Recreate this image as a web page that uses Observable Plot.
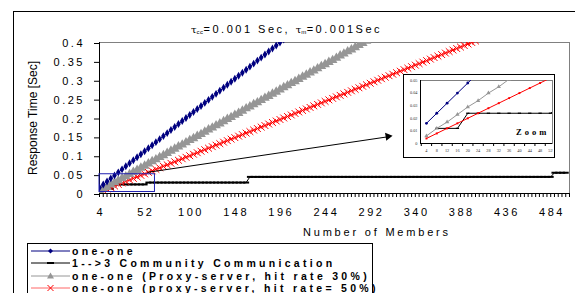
<!DOCTYPE html>
<html><head><meta charset="utf-8">
<script src="https://cdn.jsdelivr.net/npm/d3@7"></script>
<script src="https://cdn.jsdelivr.net/npm/@observablehq/plot@0.6"></script>
<style>
body{margin:0;background:#fff;}
#wrap{position:relative;width:575px;height:293px;overflow:hidden;font-family:Arial,"Liberation Sans",sans-serif;color:#000;}
#frame{position:absolute;left:13px;top:11px;width:700px;height:400px;border:1px solid #000;}
#main{position:absolute;left:0;top:0;}
#title{position:absolute;left:191px;top:23px;font-size:11px;letter-spacing:2.5px;white-space:nowrap;}
#title .tau{font-family:"DejaVu Serif",serif;font-size:10px;letter-spacing:0;}
#title sub{font-size:6px;letter-spacing:0.5px;vertical-align:-1px;}
#xlab{position:absolute;left:303px;top:226px;font-size:11px;letter-spacing:2.8px;white-space:nowrap;}
#ylab{position:absolute;left:-42px;top:111px;width:150px;text-align:center;font-size:12px;transform:rotate(-90deg);white-space:nowrap;}
#insetbox{position:absolute;left:403px;top:74px;width:152px;height:84px;background:#fff;border:1.5px solid #000;box-sizing:border-box;}
#inset{position:absolute;left:403px;top:74px;}
#zoom{position:absolute;left:516px;top:127px;font-family:"Liberation Serif","Times New Roman",serif;font-weight:bold;font-size:8.5px;letter-spacing:3px;}
#legend{position:absolute;left:27px;top:243px;width:346px;height:70px;border:1px solid #000;box-sizing:border-box;background:#fff;}
.row{position:absolute;left:1px;height:12px;white-space:nowrap;font-weight:bold;font-size:10.5px;letter-spacing:3.3px;line-height:12px;}
.row svg{position:absolute;left:0;top:0;}
.row span{position:absolute;left:43px;top:0;}
#main g[aria-label="y-axis tick label"] text{letter-spacing:2.5px;}
#main g[aria-label="x-axis tick label"] text{letter-spacing:2.5px;}
</style>
</head><body>
<div id="wrap">
  <div id="frame"></div>
  <div id="main"></div>
  <div id="title"><span class="tau">τ</span><sub>cc</sub>=0.001 Sec, <span class="tau">τ</span><sub>m</sub>=0.001Sec</div>
  <div id="xlab">Number of Members</div>
  <div id="ylab">Response Time [Sec]</div>
  <div id="insetbox"></div>
  <div id="inset"></div>
  <div id="zoom">Zoom</div>
  <div id="legend"></div>
</div>
<script>
// ---------- data ----------
const members = [4,8,12,16,20,24,28,32,36,40,44,48,52,56,60,64,68,72,76,80,84,88,92,96,100,104,108,112,116,120,124,128,132,136,140,144,148,152,156,160,164,168,172,176,180,184,188,192,196,200,204,208,212,216,220,224,228,232,236,240,244,248,252,256,260,264,268,272,276,280,284,288,292,296,300,304,308,312,316,320,324,328,332,336,340,344,348,352,356,360,364,368,372,376,380,384,388,392,396,400,404,408,412,416,420,424,428,432,436,440,444,448,452,456,460,464,468,472,476,480,484,488,492,496,500,504];

// one-one
const oneOne = [0.016,0.024,0.032,0.040,0.048,0.056,0.064,0.072,0.080,0.088,0.096,0.104,0.112,0.120,0.128,0.136,0.144,0.152,0.160,0.168,0.176,0.184,0.192,0.200,0.208,0.216,0.224,0.232,0.240,0.248,0.256,0.264,0.272,0.280,0.288,0.296,0.304,0.312,0.320,0.328,0.336,0.344,0.352,0.360,0.368,0.376,0.384,0.392,0.400,0.408];

// 1-->3 Community Communication (first member has no point)
const community = [null,0.012,0.012,0.012,0.024,0.024,0.024,0.024,0.024,0.024,0.024,0.024,0.024,
0.029,0.029,0.029,0.029,0.029,0.029,0.029,0.029,0.029,0.029,0.029,0.029,0.029,0.029,0.029,0.029,0.029,0.029,0.029,0.029,0.029,0.029,0.029,0.029,0.029,0.029,0.029,
0.044,0.044,0.044,0.044,0.044,0.044,0.044,0.044,0.044,0.044,0.044,0.044,0.044,0.044,0.044,0.044,0.044,0.044,0.044,0.044,0.044,0.044,0.044,0.044,0.044,0.044,0.044,0.044,0.044,0.044,0.044,0.044,0.044,0.044,0.044,0.044,0.044,0.044,0.044,0.044,0.044,0.044,0.044,0.044,0.044,0.044,0.044,0.044,0.044,0.044,0.044,0.044,0.044,0.044,0.044,0.044,0.044,0.044,0.044,0.044,0.044,0.044,0.044,0.044,0.044,0.044,0.044,0.044,0.044,0.044,0.044,0.044,0.044,0.044,0.044,0.044,0.044,0.044,0.044,0.044,0.044,
0.055,0.055,0.055,0.055];

// one-one (Proxy-server, hit rate 30%)
const proxy30 = [0.006,0.012,0.017,0.023,0.029,0.034,0.040,0.045,0.051,0.057,0.062,0.068,0.073,0.079,0.085,0.090,0.096,0.101,0.107,0.113,0.118,0.124,0.129,0.135,0.141,0.146,0.152,0.157,0.163,0.169,0.174,0.180,0.185,0.191,0.197,0.202,0.208,0.213,0.219,0.225,0.230,0.236,0.241,0.247,0.253,0.258,0.264,0.269,0.275,0.281,0.286,0.292,0.297,0.303,0.309,0.314,0.320,0.325,0.331,0.337,0.342,0.348,0.353,0.359,0.365,0.370,0.376,0.381,0.387,0.393,0.398,0.404];

// one-one (proxy-server, hit rate= 50%)
const proxy50 = [0.004,0.008,0.012,0.016,0.020,0.024,0.028,0.032,0.036,0.040,0.044,0.048,0.052,0.056,0.060,0.064,0.068,0.072,0.076,0.080,0.084,0.088,0.092,0.096,0.100,0.104,0.108,0.112,0.116,0.120,0.124,0.128,0.132,0.136,0.140,0.144,0.148,0.152,0.156,0.160,0.164,0.168,0.172,0.176,0.180,0.184,0.188,0.192,0.196,0.200,0.204,0.208,0.212,0.216,0.220,0.224,0.228,0.232,0.236,0.240,0.244,0.248,0.252,0.256,0.260,0.264,0.268,0.272,0.276,0.280,0.284,0.288,0.292,0.296,0.300,0.304,0.308,0.312,0.316,0.320,0.324,0.328,0.332,0.336,0.340,0.344,0.348,0.352,0.356,0.360,0.364,0.368,0.372,0.376,0.380,0.384,0.388,0.392,0.396,0.400,0.404];

const seriesNames = ["one-one","1-->3 Community Communication","one-one (Proxy-server, hit rate 30%)","one-one (proxy-server, hit rate= 50%)"];
const xTickValues = [4,52,100,148,196,244,292,340,388,436,484];
const yTickValues = [0,0.05,0.1,0.15,0.2,0.25,0.3,0.35,0.4];
const yTickLabels = ["0","0.05","0.1","0.15","0.2","0.25","0.3","0.35","0.4"];
const insetXTicks = [4,8,12,16,20,24,28,32,36,40,44,48,52];
const insetXBounds = [2,6,10,14,18,22,26,30,34,38,42,46,50];
const insetYTicks = [0,0.01,0.02,0.03,0.04,0.05];
const insetYLabels = ["0","0.01","0.02","0.03","0.04","0.05"];
const zoomBox = [{x1:4, x2:63, y1:0.004, y2:0.051}];
const pointer = [{x1:55, y1:0.056, x2:313, y2:0.151}];

// ---------- helpers ----------
const toRows = vals => vals.map((v,i)=>({n:members[i], v})).filter(d=>d.v!=null);
const dBlue = toRows(oneOne), dBlack = toRows(community), dGray = toRows(proxy30), dRed = toRows(proxy50);
const dash = {draw(ctx, size){const r=Math.sqrt(size/Math.PI); ctx.moveTo(-r*1.3,0); ctx.lineTo(r*1.3,0);}};
const C = {blue:"#000080", black:"#000000", gray:"#969696", red:"#ff0000"};

function seriesMarks(big){
  const s = big ? 1 : 0.55;
  return [
    Plot.line(dBlack,{x:"n",y:"v",stroke:C.black,strokeWidth:1,clip:true}),
    Plot.dot(dBlack,{x:"n",y:"v",symbol:dash,r:2.3*s,stroke:C.black,strokeWidth:big?2:1.3,fill:"none",clip:true}),
    Plot.line(dRed,{x:"n",y:"v",stroke:C.red,strokeWidth:1,clip:true}),
    Plot.dot(dRed,{x:"n",y:"v",symbol:big?"times":"square",r:big?3.2:1.1,stroke:big?C.red:"none",fill:big?"none":C.red,strokeWidth:1,clip:true}),
    Plot.line(dGray,{x:"n",y:"v",stroke:C.gray,strokeWidth:1,clip:true}),
    Plot.dot(dGray,{x:"n",y:"v",symbol:"triangle",r:big?3.6:1.6,fill:C.gray,stroke:"none",clip:true}),
    Plot.line(dBlue,{x:"n",y:"v",stroke:C.blue,strokeWidth:1,clip:true}),
    Plot.dot(dBlue,{x:"n",y:"v",symbol:big?"diamond":"circle",r:big?2.4:1.4,fill:C.blue,stroke:"none",clip:true})
  ];
}

// ---------- main chart ----------
const main = Plot.plot({
  width:575, height:293,
  marginLeft:99, marginRight:6, marginTop:42, marginBottom:100,
  x:{domain:[4,504]},
  y:{domain:[0,0.4]},
  style:{fontFamily:"Arial, 'Liberation Sans', sans-serif", fontSize:"11px", background:"transparent", overflow:"visible", color:"#000"},
  marks:[
    Plot.frame({stroke:"#808080"}),
    Plot.axisY({ticks:yTickValues, tickSize:5, tickPadding:9.5, dy:1, tickFormat:d=>yTickLabels[yTickValues.indexOf(d)], label:null}),
    Plot.axisX({ticks:members, tickSize:4, tickFormat:()=>"", label:null}),
    Plot.axisX({ticks:xTickValues, tickSize:0, tickPadding:15, dx:1.25, tickFormat:d=>String(d), label:null}),
    Plot.ruleX([4],{stroke:"#000"}),
    Plot.ruleY([0],{stroke:"#000"}),
    ...seriesMarks(true),
    Plot.rect(zoomBox,{x1:"x1",x2:"x2",y1:"y1",y2:"y2",stroke:"#2020b0",fill:"none",strokeWidth:1}),
    Plot.link(pointer,{x1:"x1",y1:"y1",x2:"x2",y2:"y2",stroke:"#000",strokeWidth:1}),
    Plot.dot(pointer,{x:"x2",y:"y2",symbol:"triangle",r:3,rotate:81.5,fill:"#000",stroke:"none",dx:-2})
  ]
});
document.getElementById("main").appendChild(main);

// ---------- inset (zoom) ----------
const inset = Plot.plot({
  width:152, height:84,
  marginLeft:17, marginRight:3, marginTop:6, marginBottom:15,
  x:{domain:[1.7,52.8]},
  y:{domain:[0,0.05]},
  style:{fontFamily:"'Liberation Serif','Times New Roman',serif", fontSize:"4.3px", background:"transparent", overflow:"visible", color:"#000"},
  marks:[
    Plot.frame({stroke:"#808080"}),
    Plot.axisY({ticks:insetYTicks, tickSize:0, tickPadding:3, tickFormat:d=>insetYLabels[insetYTicks.indexOf(d)], fill:"#333", label:null}),
    Plot.axisX({ticks:insetXBounds, tickSize:3, tickFormat:()=>"", label:null}),
    Plot.axisX({ticks:insetXTicks, tickSize:0, tickPadding:5, fill:"#333", label:null}),
    Plot.ruleX([1.7],{stroke:"#000"}),
    Plot.ruleY([0],{stroke:"#000"}),
    ...seriesMarks(false)
  ]
});
document.getElementById("inset").appendChild(inset);

// ---------- legend ----------
const legend = document.getElementById("legend");
const swatches = [
  `<path d="M2 6H41" stroke="${C.blue}"/><path d="M21.5 3.5L24 6L21.5 8.5L19 6Z" fill="${C.blue}"/>`,
  `<path d="M2 6H41" stroke="${C.black}"/><path d="M18 6H25" stroke="${C.black}" stroke-width="2"/>`,
  `<path d="M2 6H41" stroke="${C.gray}"/><path d="M21.5 2.5L25 8.5H18Z" fill="${C.gray}"/>`,
  `<path d="M2 6H41" stroke="${C.red}" stroke-opacity="0.6"/><path d="M18.5 3L24.5 9M24.5 3L18.5 9" stroke="${C.red}"/>`
];
seriesNames.forEach((name,i)=>{
  const row = document.createElement("div");
  row.className = "row";
  row.style.top = (1 + i*12.33) + "px";
  row.innerHTML = `<svg width="42" height="12">${swatches[i]}</svg><span></span>`;
  row.querySelector("span").textContent = name;
  legend.appendChild(row);
});
</script>
</body></html>
